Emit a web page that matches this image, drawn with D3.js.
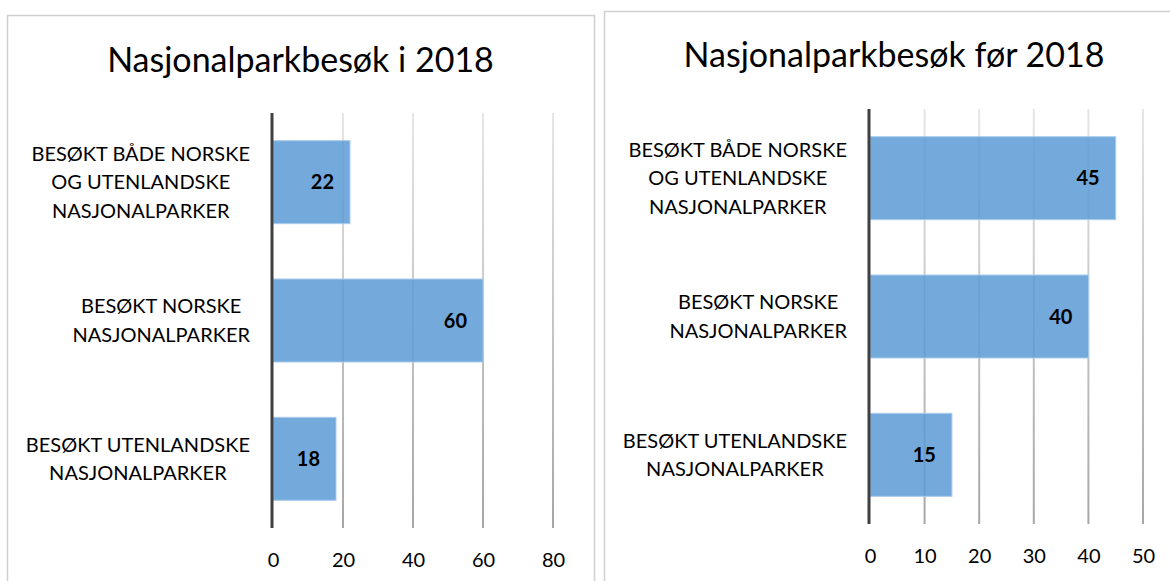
<!DOCTYPE html>
<html>
<head>
<meta charset="utf-8">
<script src="https://cdn.jsdelivr.net/npm/d3@7"></script>
<style>
  html, body { margin: 0; padding: 0; background: #fff; }
  svg { display: block; font-family: Lato, "Open Sans", sans-serif; }
</style>
</head>
<body>
<svg id="chart" width="1170" height="581"></svg>
<script>
// Category labels, wrapped the way they are printed beside the bars
const categoryLines = [
  ["BESØKT BÅDE NORSKE", "OG UTENLANDSKE", "NASJONALPARKER"],
  ["BESØKT NORSKE", "NASJONALPARKER"],
  ["BESØKT UTENLANDSKE", "NASJONALPARKER"]
];
const categories = categoryLines.map(l => l.join(" "));

// Visits in 2018
const title2018 = "Nasjonalparkbesøk i 2018";
const values2018 = [22, 60, 18];
const ticks2018 = [0, 20, 40, 60, 80];

// Visits before 2018
const titleBefore = "Nasjonalparkbesøk før 2018";
const valuesBefore = [45, 40, 15];
const ticksBefore = [0, 10, 20, 30, 40, 50];

const svg = d3.select("#chart");
const defs = svg.append("defs");

function drawPanel(opt) {
  const g = svg.append("g");

  // chart frame
  g.append("rect")
    .attr("x", opt.frame[0] + 0.5).attr("y", opt.frame[1] + 0.5)
    .attr("width", opt.frame[2]).attr("height", 700)
    .attr("fill", "#fff").attr("stroke", "#d0d0d0").attr("stroke-width", 1.5);

  // title
  g.append("text")
    .attr("x", opt.frame[0] + opt.frame[2] / 2)
    .attr("y", opt.titleY)
    .attr("text-anchor", "middle")
    .attr("font-size", opt.titleSize)
    .attr("fill", "#000")
    .text(opt.title);

  const x = d3.scaleLinear().domain(opt.domain).range([opt.left, opt.right]);
  const y = d3.scaleBand().domain(categories).range([opt.top, opt.bottom])
    .paddingInner(0.4).paddingOuter(0.2);

  // gridlines fade from light at the top to darker grey at the bottom
  const gradId = "grid-" + opt.id;
  const grad = defs.append("linearGradient").attr("id", gradId)
    .attr("gradientUnits", "userSpaceOnUse")
    .attr("x1", 0).attr("y1", opt.top).attr("x2", 0).attr("y2", opt.bottom);
  grad.append("stop").attr("offset", "0%").attr("stop-color", "#e6e6e6");
  grad.append("stop").attr("offset", "100%").attr("stop-color", "#a6a6a6");

  g.append("g").selectAll("line")
    .data(opt.ticks.filter(t => t !== 0))
    .join("line")
    .attr("x1", d => x(d)).attr("x2", d => x(d))
    .attr("y1", opt.top).attr("y2", opt.bottom)
    .attr("stroke", `url(#${gradId})`).attr("stroke-width", 2);

  // bars
  g.append("g").selectAll("rect")
    .data(opt.values)
    .join("rect")
    .attr("x", x(0))
    .attr("y", (d, i) => y(categories[i]))
    .attr("width", d => x(d) - x(0))
    .attr("height", y.bandwidth())
    .attr("fill", "#5b9bd5").attr("fill-opacity", 0.85)
    .attr("stroke", "#a9cbec").attr("stroke-width", 1);

  // value labels inside the bar ends
  g.append("g").selectAll("text")
    .data(opt.values)
    .join("text")
    .attr("x", d => x(d) - 16)
    .attr("y", (d, i) => y(categories[i]) + y.bandwidth() / 2)
    .attr("dy", "0.36em")
    .attr("text-anchor", "end")
    .attr("font-size", 20).attr("font-weight", "bold").attr("fill", "#000")
    .text(d => d);

  // category axis line
  g.append("line")
    .attr("x1", x(0) - 1).attr("x2", x(0) - 1)
    .attr("y1", opt.top).attr("y2", opt.bottom)
    .attr("stroke", "#404040").attr("stroke-width", 3);

  // category labels: lines centred on the widest line, block right-aligned
  const labelRight = x(0) - 23;
  const lh = 28.5;
  categoryLines.forEach((lines, i) => {
    const cy = y(categories[i]) + y.bandwidth() / 2;
    const t = g.append("text")
      .attr("font-size", opt.catSize).attr("fill", "#000");
    const spans = t.selectAll("tspan").data(lines).join("tspan")
      .attr("y", (d, k) => cy + (k - (lines.length - 1) / 2) * lh)
      .attr("dy", "0.36em")
      .text(d => d);
    const widths = spans.nodes().map(n => n.getComputedTextLength());
    const maxW = d3.max(widths);
    spans.attr("x", labelRight - maxW / 2).attr("text-anchor", "middle");
  });

  // value axis
  const ax = g.append("g")
    .attr("transform", `translate(0,${opt.bottom})`)
    .call(d3.axisBottom(x).tickValues(opt.ticks).tickSize(0).tickFormat(d3.format("d")));
  ax.select(".domain").remove();
  ax.selectAll("text")
    .attr("y", 39).attr("dy", 0)
    .attr("font-size", 20).attr("fill", "#000")
    .attr("font-family", "Lato, sans-serif");
}

drawPanel({
  id: "a", frame: [7, 15, 587], title: title2018, titleY: 72, titleSize: 34,
  domain: [0, 80], ticks: ticks2018, values: values2018,
  left: 273, right: 553, top: 113, bottom: 528, catSize: 20
});

drawPanel({
  id: "b", frame: [604, 11, 580], title: titleBefore, titleY: 67, titleSize: 34,
  domain: [0, 50], ticks: ticksBefore, values: valuesBefore,
  left: 870, right: 1143, top: 109, bottom: 524, catSize: 20
});
</script>
</body>
</html>
